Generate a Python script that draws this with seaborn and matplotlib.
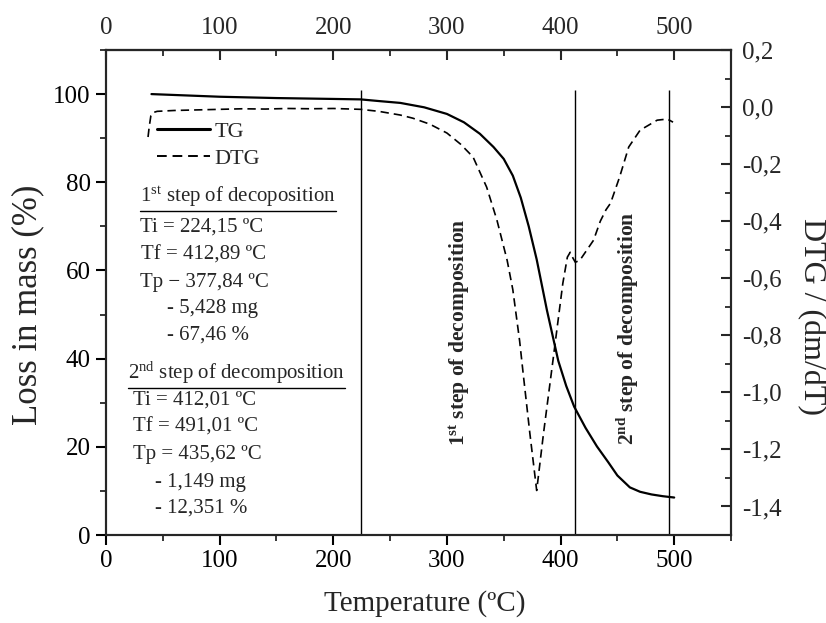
import numpy as np
import pandas as pd
import matplotlib
matplotlib.use("Agg")
import matplotlib.pyplot as plt
from matplotlib.lines import Line2D
from matplotlib.ticker import FuncFormatter, MultipleLocator
import seaborn as sns

# ---------------- data ----------------
temp_tg = [40, 60, 100, 150, 200, 224, 241, 259, 280, 300, 315, 329, 341, 350, 358,
           365, 372, 379, 388, 398, 405, 412, 422, 432, 442, 450, 461, 470, 480, 490, 500]
tg = [100.0, 99.8, 99.4, 99.1, 98.9, 98.8, 98.4, 98.0, 97.0, 95.5, 93.6, 91.0, 88.0,
      85.3, 81.5, 76.5, 70.0, 62.5, 51.0, 39.5, 33.8, 29.1, 24.3, 20.1, 16.5, 13.5,
      10.8, 9.8, 9.2, 8.8, 8.5]

temp_dtg = [37, 38, 39.5, 41, 45, 60, 80, 100, 120, 140, 160, 180, 200, 224, 240, 259,
            270, 285, 300, 312, 323, 335, 344, 353, 358, 364, 367, 373, 379, 385, 393,
            402, 406, 408.5, 411, 413, 417, 423, 429, 435, 440, 444, 452, 460, 470,
            485, 494, 499]
dtg = [-0.105, -0.07, -0.03, -0.02, -0.015, -0.012, -0.010, -0.008, -0.006, -0.007,
       -0.005, -0.006, -0.005, -0.008, -0.015, -0.028, -0.039, -0.06, -0.091, -0.13,
       -0.175, -0.281, -0.396, -0.537, -0.64, -0.82, -0.93, -1.144, -1.344, -1.144,
       -0.898, -0.618, -0.526, -0.509, -0.53, -0.544, -0.537, -0.502, -0.467, -0.40,
       -0.36, -0.337, -0.245, -0.140, -0.081, -0.046, -0.042, -0.053]

step_lines = [224.15, 412.89, 495.0]
x_ticks = [0, 100, 200, 300, 400, 500]
left_ticks = [0, 20, 40, 60, 80, 100]
right_ticks = [-1.4, -1.2, -1.0, -0.8, -0.6, -0.4, -0.2, 0.0, 0.2]

step1_lines = [r"1$^{\mathrm{st}}$ step of decoposition", "Ti = 224,15 ºC",
               "Tf = 412,89 ºC", "Tp − 377,84 ºC", "- 5,428 mg", "- 67,46 %"]
step2_lines = [r"2$^{\mathrm{nd}}$ step of decomposition", "Ti = 412,01 ºC",
               "Tf = 491,01 ºC", "Tp = 435,62 ºC", "- 1,149 mg", "- 12,351 %"]

# ---------------- style ----------------
sns.set_style("ticks")
plt.rcParams["font.family"] = ["Liberation Serif", "DejaVu Serif"]
plt.rcParams["mathtext.fontset"] = "custom"
plt.rcParams["mathtext.rm"] = "Liberation Serif"
plt.rcParams["mathtext.it"] = "Liberation Serif:italic"
plt.rcParams["mathtext.bf"] = "Liberation Serif:bold"
plt.rcParams["axes.unicode_minus"] = False

W, H = 826, 623
fig = plt.figure(figsize=(W / 100, H / 100), dpi=100)
fig.patch.set_facecolor("white")
L, R, T, B = 106, 731, 50, 535
ax = fig.add_axes([L / W, 1 - B / H, (R - L) / W, (B - T) / H])

df_tg = pd.DataFrame({"T": temp_tg, "TG": tg})
df_dtg = pd.DataFrame({"T": temp_dtg, "DTG": dtg})

sns.lineplot(data=df_tg, x="T", y="TG", ax=ax, color="black", lw=1.6,
             sort=False, estimator=None)
ax.vlines(step_lines, 0, 101, color="black", lw=1.0)

ax.set_xlim(0, 550)
ax.set_ylim(0, 110)
ax.set_xticks(x_ticks)
ax.xaxis.set_minor_locator(MultipleLocator(50))
ax.set_yticks(left_ticks)
ax.yaxis.set_minor_locator(MultipleLocator(10))
for s in ax.spines.values():
    s.set_linewidth(1.5)
    s.set_color("black")
ax.tick_params(axis="both", which="major", direction="out", length=7, width=1.5,
               labelsize=18, pad=4, colors="black")
ax.tick_params(axis="both", which="minor", direction="out", length=4, width=1.3)
ax.tick_params(axis="y", which="both", right=False)
ax.tick_params(axis="x", which="both", top=False)

ax.set_xlabel("Temperature (ºC)", fontsize=21)
ax.set_ylabel("Loss in mass (%)", fontsize=25)
ax.xaxis.label.set_verticalalignment("center")
ax.yaxis.label.set_verticalalignment("center")
ax.yaxis.label.set_horizontalalignment("center")
ax.xaxis.set_label_coords((425 - L) / (R - L), (B - 604) / (B - T))
ax.yaxis.set_label_coords((28 - L) / (R - L), (B - 305) / (B - T))

# top axis
sec = ax.secondary_xaxis("top")
sec.set_xticks(x_ticks)
sec.xaxis.set_minor_locator(MultipleLocator(50))
sec.tick_params(axis="x", which="major", direction="in", length=7, width=1.5,
                labelsize=18, pad=8)
sec.tick_params(axis="x", which="minor", direction="in", length=4, width=1.3)
sec.spines["top"].set_linewidth(1.5)

# right axis (DTG)
ax2 = ax.twinx()
sns.lineplot(data=df_dtg, x="T", y="DTG", ax=ax2, color="black", lw=1.2,
             linestyle=(0, (5, 3)), sort=False, estimator=None)
ax2.set_ylim(-1.5, 0.2)
ax2.set_yticks(right_ticks)
ax2.yaxis.set_minor_locator(MultipleLocator(0.1))
ax2.yaxis.set_major_formatter(FuncFormatter(lambda v, p: f"{v:.1f}".replace(".", ",").replace("-0,0", "0,0")))
ax2.tick_params(axis="y", which="major", direction="in", length=7, width=1.5,
                labelsize=18, pad=8)
ax2.tick_params(axis="y", which="minor", direction="in", length=4, width=1.3)
for s in ax2.spines.values():
    s.set_linewidth(1.5)
ax2.set_ylabel("DTG / (dm/dT)", fontsize=23, rotation=270)
ax2.yaxis.label.set_verticalalignment("center")
ax2.yaxis.label.set_horizontalalignment("center")
ax2.yaxis.set_label_coords((811 - L) / (R - L), (B - 317) / (B - T))
ax2.set_xlabel("")

# legend
h_tg = Line2D([], [], color="black", lw=2.2)
h_dtg = Line2D([], [], color="black", lw=1.4, linestyle=(0, (5, 3)))
ax.legend([h_tg, h_dtg], ["TG", "DTG"], loc="upper left",
          bbox_to_anchor=((157 - L) / (R - L), (B - 121) / (B - T)),
          frameon=False, fontsize=16, handlelength=2.4, handletextpad=0.2,
          labelspacing=0.3, borderpad=0, borderaxespad=0)

# annotation block
def px(x, y):
    return x / W, 1 - y / H

ys1 = [197, 227, 255, 282, 308, 335]
xs1 = [140, 140, 141, 140, 167, 167]
ys2 = [373, 400, 427, 454, 482, 508]
xs2 = [128, 133, 133, 133, 155, 155]
texts = []
for s, x, y in zip(step1_lines, xs1, ys1):
    texts.append(fig.text(*px(x, y), s, fontsize=15, ha="left", va="center"))
for s, x, y in zip(step2_lines, xs2, ys2):
    texts.append(fig.text(*px(x, y), s, fontsize=15, ha="left", va="center"))

# rotated step labels
ax.text(311, 46, r"1$^{\mathbf{st}}$ step of decomposition", rotation=90,
        fontsize=15.5, fontweight="bold", ha="center", va="center")
ax.text(459, 47, r"2$^{\mathbf{nd}}$ step of decomposition", rotation=90,
        fontsize=15.5, fontweight="bold", ha="center", va="center")

# underline headings
fig.canvas.draw()
rend = fig.canvas.get_renderer()
for t in (texts[0], texts[6]):
    bb = t.get_window_extent(rend)
    fig.add_artist(Line2D([bb.x0 / W, bb.x1 / W], [(bb.y0 - 1.5) / H] * 2,
                          transform=fig.transFigure, color="black", lw=1.0))

fig.savefig("out.png", dpi=100, facecolor="white")
